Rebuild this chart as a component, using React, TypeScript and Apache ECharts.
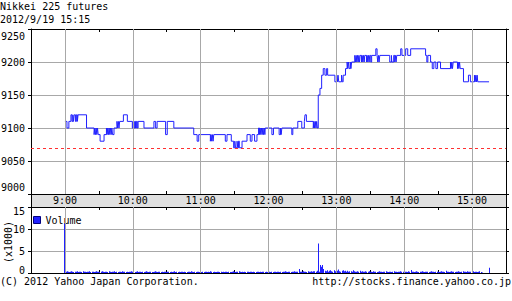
import React, { useEffect, useRef } from 'react';
import * as echarts from 'echarts';

const titleLines = ['Nikkei 225 futures', '2012/9/19 15:15'];
const footerLeft = '(C) 2012 Yahoo Japan Corporation.';
const footerRight = 'http://stocks.finance.yahoo.co.jp';
const volumeUnit = '(x1000)';

// time axis in minutes since midnight
const sessionOpen = 540; // 9:00
const axisStart = 510; // 8:30
const axisEnd = 930; // 15:30
const axisStep = 30;
const hourTicks = [540, 600, 660, 720, 780, 840, 900];

const priceMin = 9000;
const priceMax = 9250;
const priceStep = 50;
const prevClose = 9070;

const volumeMax = 15;
const volumeStep = 5;

// [minutes after 9:00, price]
const priceSteps: [number, number][] = [
  [0, 9110], [1.8, 9100], [3.5, 9110], [5.3, 9120], [6.2, 9110], [7.0, 9120], [7.6, 9110], [8.2, 9120],
  [9.3, 9110], [10.1, 9120], [11.0, 9110], [11.6, 9120], [19.1, 9100],
  [25.8, 9090], [26.4, 9100], [27.0, 9090], [27.6, 9100], [28.2, 9090], [28.8, 9100], [29.4, 9090],
  [31.1, 9080], [34.6, 9090], [36.7, 9100], [37.3, 9090], [37.9, 9100], [38.5, 9090], [39.1, 9100],
  [39.7, 9090], [40.3, 9100], [40.9, 9090], [41.5, 9100], [42.1, 9090], [43.4, 9100],
  [46.0, 9110], [46.6, 9100], [47.2, 9110], [47.8, 9100], [48.4, 9110], [51.7, 9120], [55.2, 9110],
  [59.6, 9100], [60.3, 9110], [61.0, 9100], [61.7, 9110], [62.4, 9100], [63.2, 9110], [64.0, 9100],
  [64.7, 9110], [69.9, 9100], [78.7, 9110], [80.2, 9100], [81.5, 9110], [89.0, 9090], [90.5, 9110],
  [96.3, 9100], [113.9, 9090], [116.9, 9080], [118.3, 9090], [128.6, 9080], [129.2, 9090], [129.8, 9080],
  [130.4, 9090], [131.0, 9080], [131.6, 9090], [141.8, 9080], [143.3, 9090], [147.1, 9080], [149.2, 9070],
  [150.2, 9080], [150.8, 9070], [152.2, 9080], [152.8, 9070], [153.5, 9080], [154.2, 9070], [156.6, 9080],
  [161.0, 9090], [163.9, 9080], [165.4, 9090], [167.7, 9080], [169.8, 9090], [171.2, 9100], [172.0, 9090],
  [172.6, 9100], [173.2, 9090], [173.8, 9100], [174.4, 9090], [175.0, 9100], [175.6, 9090], [176.2, 9100],
  [176.8, 9090], [177.1, 9100], [183.0, 9090], [184.4, 9100], [189.4, 9090], [190.6, 9100], [191.2, 9090],
  [191.8, 9100], [200.6, 9090], [201.5, 9100], [205.9, 9110], [209.4, 9100], [211.7, 9110], [212.3, 9120],
  [213.5, 9110], [219.6, 9100], [220.2, 9110], [220.8, 9100], [221.4, 9110], [222.0, 9100], [222.6, 9110],
  [223.2, 9100], [224.0, 9150], [225.5, 9160], [227.0, 9180], [228.4, 9190], [229.9, 9180], [231.4, 9190],
  [232.3, 9180], [238.7, 9170], [240.3, 9180], [240.9, 9170], [241.5, 9180], [242.1, 9170], [244.6, 9180],
  [245.2, 9170], [246.0, 9180], [248.1, 9190], [249.5, 9200], [250.1, 9190], [250.7, 9200], [251.3, 9190],
  [252.3, 9200], [252.9, 9190], [253.5, 9200], [256.3, 9210], [256.9, 9200], [257.5, 9210], [258.1, 9200],
  [258.7, 9210], [259.3, 9200], [259.9, 9210], [260.5, 9200], [261.0, 9210], [262.2, 9200], [262.8, 9210],
  [263.4, 9200], [264.0, 9210], [264.6, 9200], [265.1, 9210], [266.6, 9200], [267.2, 9210], [267.8, 9200],
  [268.4, 9210], [269.0, 9200], [269.5, 9210], [270.4, 9200], [271.2, 9210], [274.9, 9220], [276.0, 9210],
  [276.6, 9200], [277.2, 9210], [277.8, 9200], [278.4, 9210], [287.2, 9200], [288.7, 9210], [289.0, 9200],
  [290.7, 9210], [291.6, 9200], [292.2, 9210], [292.8, 9200], [293.4, 9210], [296.9, 9220], [298.0, 9210],
  [301.3, 9220], [303.1, 9210], [305.7, 9220], [318.9, 9210], [320.0, 9200], [320.9, 9210], [323.3, 9200],
  [324.8, 9190], [326.2, 9200], [328.0, 9190], [329.5, 9200], [332.1, 9190], [340.9, 9200], [341.5, 9190],
  [342.1, 9200], [342.7, 9190], [343.3, 9200], [347.1, 9190], [347.7, 9200], [348.3, 9190], [348.9, 9200],
  [349.5, 9190], [352.4, 9170], [356.8, 9180], [358.5, 9170], [362.1, 9180], [362.7, 9170], [363.3, 9180],
  [363.9, 9170], [364.5, 9180], [365.0, 9170], [375.0, 9170],
];

// per-minute volume from 9:00, in hundreds of contracts
const volumeRows: number[][] = [
  [113, 3, 4, 3, 2, 3, 4, 3, 2, 3, 3, 4, 2, 3, 3, 2, 4, 3, 3, 2, 3, 3, 4, 2, 3, 3, 2, 3, 4, 3],
  [3, 2, 3, 4, 3, 2, 3, 3, 2, 4, 3, 2, 3, 3, 4, 2, 3, 2, 3, 3, 2, 4, 3, 3, 2, 3, 2, 3, 3, 4],
  [3, 3, 2, 3, 4, 2, 3, 3, 2, 3, 2, 3, 4, 3, 2, 3, 3, 2, 2, 3, 4, 3, 2, 3, 3, 2, 3, 2, 3, 3],
  [2, 3, 3, 2, 3, 2, 3, 4, 2, 3, 2, 3, 2, 3, 3, 2, 3, 2, 2, 3, 3, 2, 4, 3, 2, 3, 2, 3, 3, 2],
  [3, 2, 3, 2, 3, 3, 2, 3, 2, 4, 3, 2, 3, 2, 2, 3, 3, 2, 3, 2, 3, 2, 3, 3, 2, 3, 2, 2, 3, 4],
  [3, 2, 3, 3, 4, 3, 2, 3, 2, 3, 2, 3, 3, 2, 3, 3, 2, 3, 2, 2, 3, 3, 2, 3, 2, 3, 3, 2, 3, 2],
  [3, 3, 2, 3, 2, 3, 3, 2, 3, 3, 2, 3, 2, 3, 3, 4, 3, 2, 3, 3, 2, 3, 3, 4, 3, 3, 3, 9, 3, 3],
  [3, 4, 3, 3, 2, 4, 3, 3, 4, 3, 4, 4, 3, 5, 67, 3, 18, 14, 18, 9, 5, 4, 6, 3, 5, 6, 4, 3, 6, 4],
  [4, 5, 8, 4, 3, 5, 6, 4, 5, 3, 5, 3, 4, 4, 3, 6, 4, 3, 3, 4, 3, 5, 3, 4, 3, 3, 4, 3, 3, 4],
  [3, 3, 2, 4, 3, 3, 2, 3, 4, 3, 3, 2, 3, 3, 4, 3, 2, 3, 3, 2, 3, 4, 3, 3, 2, 3, 3, 4, 3, 3],
  [5, 3, 3, 2, 4, 3, 7, 3, 3, 2, 3, 4, 3, 2, 3, 3, 4, 3, 2, 3, 3, 3, 2, 3, 4, 3, 3, 2, 3, 3],
  [3, 2, 3, 4, 3, 3, 2, 5, 3, 3, 2, 3, 4, 3, 3, 2, 3, 3, 4, 3, 2, 3, 4, 3, 3, 2, 4, 3, 3, 3],
  [3, 4, 2, 3, 3, 2, 3, 4, 2, 1, 0, 0, 0, 0, 0, 12],
];

const MONO = 'DejaVu Sans Mono';
const BLUE = '#2020ff';
const GRID = '#a8a8a8';
const BAND = '#e0e0e0';
const RED = '#ff3030';

const hourLabel = (v: number) =>
  v % 60 === 0 && v >= sessionOpen && v <= 900 ? `${v / 60}:00` : '';

export default function App() {
  const ref = useRef<HTMLDivElement>(null);
  useEffect(() => {
    if (!ref.current) return;
    const chart = echarts.init(ref.current, undefined, { renderer: 'svg' });
    const txt = { fontFamily: MONO, fontSize: 10, color: '#000' };
    const line = { show: true, onZero: false, lineStyle: { color: '#000', width: 1 } };
    const tickIn = { show: true, inside: true, length: 3, lineStyle: { color: '#000' } };
    const tickOut = { show: true, inside: false, length: 3, lineStyle: { color: '#000' } };
    const xBase = {
      type: 'value', min: axisStart, max: axisEnd, interval: axisStep,
      axisLine: line, axisTick: tickIn, splitLine: { show: false },
    };
    const volumes = volumeRows.flat();
    const hourLines = hourTicks.map((h) => ({
      xAxis: h, lineStyle: { color: GRID, type: 'solid', width: 1 },
    }));
    const markBase = { silent: true, symbol: ['none', 'none'], label: { show: false }, animation: false };

    chart.setOption({
      animation: false,
      backgroundColor: '#fff',
      title: {
        text: titleLines.join('\n'), left: 0, top: 0, padding: 0,
        textStyle: { ...txt, fontWeight: 'normal', lineHeight: 13 },
      },
      legend: {
        data: ['Volume'], left: 33, top: 215, padding: 0, itemWidth: 7, itemHeight: 7,
        icon: 'rect', selectedMode: false, textStyle: txt,
        itemStyle: { color: BLUE, borderColor: '#000080', borderWidth: 1 },
      },
      grid: [
        { left: 31, top: 29, width: 475, height: 165, containLabel: false, outerBoundsMode: 'none' },
        { left: 31, top: 207, width: 475, height: 66, containLabel: false, outerBoundsMode: 'none' },
      ],
      xAxis: [
        { ...xBase, gridIndex: 0, position: 'bottom', axisLabel: { ...txt, margin: 1, formatter: hourLabel } },
        { ...xBase, gridIndex: 0, position: 'top', axisLabel: { show: false } },
        { ...xBase, gridIndex: 1, position: 'bottom', axisLabel: { show: false } },
        { ...xBase, gridIndex: 1, position: 'top', axisLabel: { show: false } },
      ],
      yAxis: [
        {
          type: 'value', gridIndex: 0, position: 'left', min: priceMin, max: priceMax, interval: priceStep,
          axisLine: line, axisTick: tickOut, splitLine: { show: true, lineStyle: { color: GRID } },
          axisLabel: {
            ...txt, margin: 6, showMinLabel: true, showMaxLabel: true,
            formatter: (v: number) => (v === priceMax ? `{t|${v}}` : v === priceMin ? `{b|${v}}` : `${v}`),
            rich: { t: { ...txt, padding: [14, 0, 0, 0] }, b: { ...txt, padding: [0, 0, 14, 0] } },
          },
        },
        {
          type: 'value', gridIndex: 0, position: 'right', min: priceMin, max: priceMax, interval: priceStep,
          axisLine: line, axisTick: tickOut, splitLine: { show: false }, axisLabel: { show: false },
        },
        {
          type: 'value', gridIndex: 1, position: 'left', min: 0, max: volumeMax, interval: volumeStep,
          axisLine: line, axisTick: tickOut, splitLine: { show: true, lineStyle: { color: GRID } },
          axisLabel: {
            ...txt, margin: 6, showMinLabel: true, showMaxLabel: true,
            formatter: (v: number) => (v === volumeMax ? `{t|${v}}` : v === 0 ? `{b|${v}}` : `${v}`),
            rich: { t: { ...txt, padding: [8, 0, 0, 0] }, b: { ...txt, padding: [0, 0, 5, 0] } },
          },
        },
        {
          type: 'value', gridIndex: 1, position: 'right', min: 0, max: volumeMax, interval: volumeStep,
          axisLine: line, axisTick: tickOut, splitLine: { show: false }, axisLabel: { show: false },
        },
      ],
      series: [
        {
          type: 'line', xAxisIndex: 0, yAxisIndex: 0, z: 1, silent: true, symbol: 'none',
          data: [[axisStart, priceMin]], lineStyle: { opacity: 0 },
          markLine: {
            ...markBase,
            data: [...hourLines, { yAxis: prevClose, lineStyle: { color: RED, type: [3, 3], width: 1 } }],
          },
        },
        {
          type: 'line', name: 'Nikkei 225 futures', xAxisIndex: 0, yAxisIndex: 0, z: 3,
          step: 'end', symbol: 'none', showSymbol: false,
          data: priceSteps.map(([m, p]) => [sessionOpen + m, p]),
          lineStyle: { color: BLUE, width: 1 },
        },
        {
          type: 'line', xAxisIndex: 2, yAxisIndex: 2, z: 1, silent: true, symbol: 'none',
          data: [[axisStart, 0]], lineStyle: { opacity: 0 },
          markLine: { ...markBase, data: hourLines },
        },
        {
          type: 'custom', name: 'Volume', xAxisIndex: 2, yAxisIndex: 2, z: 3,
          encode: { x: 0, y: 1 },
          data: volumes.map((v, i) => [sessionOpen + i, v / 10]),
          itemStyle: { color: BLUE },
          renderItem: (_params: any, api: any) => {
            const t = api.value(0);
            const top = api.coord([t, api.value(1)]);
            const base = api.coord([t, 0]);
            return {
              type: 'rect',
              shape: { x: Math.floor(top[0]), y: top[1], width: 1, height: base[1] - top[1] },
              style: { fill: BLUE },
            };
          },
        },
      ],
      graphic: [
        {
          type: 'rect', z: -10, silent: true,
          shape: { x: 31.5, y: 194.5, width: 475, height: 13 },
          style: { fill: BAND, stroke: '#000', lineWidth: 1 },
        },
        {
          type: 'text', x: 8, y: 242, rotation: Math.PI / 2, silent: true,
          style: {
            text: volumeUnit, font: `10px "${MONO}"`, fill: '#000',
            align: 'center', verticalAlign: 'middle',
          },
        },
        {
          type: 'text', left: 0, top: 276, silent: true,
          style: { text: footerLeft, font: `10px "${MONO}"`, fill: '#000' },
        },
        {
          type: 'text', right: 1, top: 276, silent: true,
          style: { text: footerRight, font: `10px "${MONO}"`, fill: '#000' },
        },
      ],
    });
    return () => chart.dispose();
  }, []);
  return (
    <div
      ref={ref}
      style={{ position: 'fixed', left: 0, top: 0, width: 512, height: 301, background: '#fff' }}
    />
  );
}
